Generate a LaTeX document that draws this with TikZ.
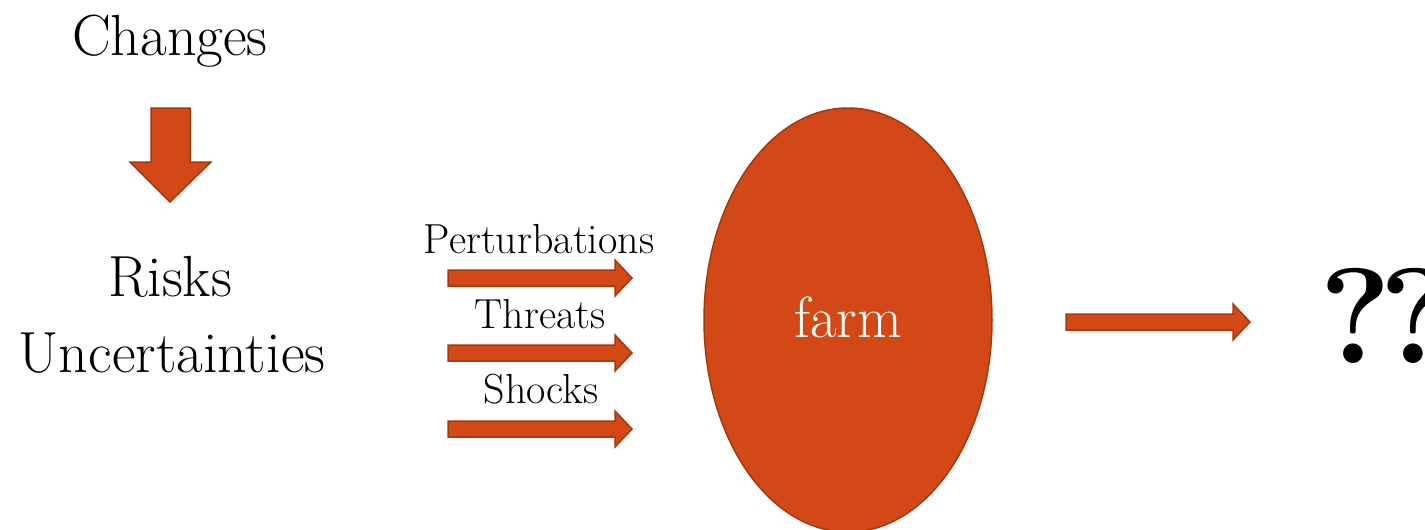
\documentclass[tikz,border=0pt]{standalone}
\usepackage{fontspec}
\usetikzlibrary{shapes.geometric}
\definecolor{arrfill}{HTML}{D24817}
\definecolor{arrline}{HTML}{A3390F}
\begin{document}
\begin{tikzpicture}[x=1pt,y=-1pt,
  blockarr/.style={fill=arrfill, draw=arrline, line width=1.5pt, line join=miter},
  biglbl/.style={inner sep=0pt, anchor=base, font=\fontsize{58}{66}\selectfont},
  smalllbl/.style={inner sep=0pt, anchor=base, font=\fontsize{42}{50}\selectfont}]
\useasboundingbox (0,0) rectangle (1425,530);
% left column
\node[biglbl] (changes) at (170,55) {Changes};
\draw[blockarr] (151,108) -- (190,108) -- (190,162) -- (211,162) -- (170,202) -- (130,162) -- (151,162) -- cycle;
\node[biglbl] (risks) at (170,296) {Risks};
\node[biglbl] (uncert) at (172,372) {Uncertainties};
% middle labels and arrows
\node[smalllbl] (pert) at (539,253) {Perturbations};
\node[smalllbl] (threats) at (540,328) {Threats};
\node[smalllbl] (shocks) at (541,403) {Shocks};
\foreach \c in {278,353,429}{
  \draw[blockarr] (448,\c-8) -- (615,\c-8) -- (615,\c-18) -- (632,\c) -- (615,\c+18) -- (615,\c+8) -- (448,\c+8) -- cycle;
}
% farm
\node[ellipse, fill=arrfill, draw=arrline, line width=1.5pt, minimum width=288pt, minimum height=424pt, inner sep=0pt] (farm) at (848,320) {};
\node[inner sep=0pt, anchor=base, text=white, font=\fontsize{58}{66}\selectfont] (farmlbl) at (848,337) {farm};
% output arrow
\draw[blockarr] (1066,314) -- (1233,314) -- (1233,304) -- (1250,322) -- (1233,340) -- (1233,330) -- (1066,330) -- cycle;
\node[inner sep=0pt, anchor=base west, font=\fontsize{136}{150}\selectfont\bfseries] (qq) at (1319,363) {?\kern-12pt?};
\end{tikzpicture}
\end{document}
